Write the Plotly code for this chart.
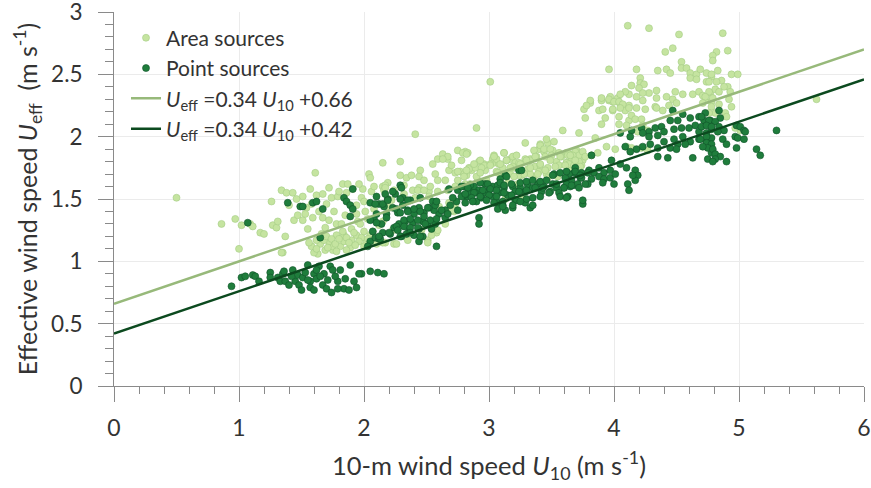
import plotly.graph_objects as go

# Area sources (U10, Ueff)
area_pts = [
(0.50,1.51),(0.86,1.30),(0.97,1.34),(1.02,1.29),(1.00,1.10),(1.09,1.30),(1.11,1.28),(1.17,1.23),(1.20,1.22),(1.26,1.48),(1.27,1.29),(1.30,1.27),(1.31,1.32),(1.34,1.57),(1.35,1.07),(1.37,1.20),(1.38,1.55),(1.43,1.55),(1.44,1.33),(1.47,1.37),(1.51,1.52),(1.51,1.33),(1.54,1.43),(1.55,1.26),(1.57,1.58),(1.59,1.35),(1.61,1.71),(1.62,1.53),(1.63,1.06),(1.67,1.54),(1.67,1.35),(1.69,1.27),(1.72,1.59),(1.74,1.51),(1.75,1.09),(1.79,1.52),(1.83,1.62),(1.85,1.37),(1.84,1.21),(1.87,1.62),(1.90,1.26),(1.91,1.58),(1.94,1.45),(1.95,1.32),(1.98,1.51),(1.99,1.58),(2.01,1.40),(2.04,1.70),(2.05,1.67),(2.15,1.60),(2.19,1.63),
(1.65,1.14),(1.69,1.09),(1.75,1.12),(1.60,1.07),(1.81,1.12),(1.84,1.16),(1.78,1.21),(1.72,1.16),(1.68,1.17),(1.90,1.17),(1.94,1.21),(1.98,1.19),(2.02,1.15),(2.05,1.21),(2.10,1.17),(1.89,1.11),(1.34,1.07),
(1.58,1.12),(1.62,1.17),(1.66,1.22),(1.70,1.20),(1.74,1.18),(1.77,1.14),(1.80,1.18),(1.83,1.24),(1.86,1.19),(1.88,1.15),(1.92,1.23),(1.96,1.16),(2.00,1.24),(2.03,1.18),(2.07,1.24),(1.71,1.11),(1.78,1.08),(1.86,1.09),(1.93,1.13),(2.00,1.12),(1.62,1.10),(1.56,1.15),
(1.40,1.45),(1.46,1.50),(1.53,1.38),(1.58,1.46),(1.64,1.40),(1.70,1.46),(1.76,1.40),(1.80,1.56),(1.86,1.55),(1.94,1.38),(2.00,1.48),(2.06,1.56),(2.08,1.42),(1.96,1.62),(1.78,1.30),(1.72,1.33),(1.82,1.30),(1.97,1.30),(2.03,1.34),
(2.15,1.79),(2.29,1.80),(2.41,2.02),(2.90,2.07),(3.29,1.95),(3.12,1.87),(2.75,1.89),(2.81,1.88),(2.63,1.86),(2.59,1.82),(2.67,1.82),(2.68,1.73),(2.55,1.78),(2.45,1.73),(2.29,1.69),(2.34,1.67),(2.38,1.69),(2.44,1.68),(2.48,1.65),(2.32,1.61),(2.17,1.61),(2.16,1.57),(2.24,1.57),(2.39,1.57),(2.44,1.59),(2.52,1.56),(2.57,1.70),(2.59,1.65),(2.65,1.65),(2.73,1.71),(2.77,1.72),(2.84,1.75),(2.92,1.80),(2.96,1.78),(3.03,1.82),(3.04,1.79),(3.08,1.78),(3.17,1.82),(3.19,1.84),(3.21,1.79),(3.20,1.75),(3.33,1.82),(3.40,1.90),(3.41,1.94),(3.47,1.95),(3.44,1.88),(3.52,1.96),(3.51,1.89),(3.56,1.87),(3.62,1.87),(3.70,1.89),(3.66,1.83),(3.62,1.79),(3.74,1.83),(3.31,1.74),(3.37,1.76),(3.40,1.72),(3.47,1.75),(3.36,1.68),(3.26,1.69),(3.06,1.72),(3.15,1.71),(2.97,1.73),(2.86,1.73),(2.82,1.69),(2.75,1.65),(2.85,1.62),(2.91,1.65),(3.15,1.63),(3.23,1.62),(3.26,1.52),(3.13,1.50),(2.22,1.49),(2.19,1.44),(2.60,1.44),(2.67,1.42),(2.15,1.32),(2.12,1.29),(2.23,1.25),(2.17,1.15),(2.24,1.14),(2.46,1.25),(2.51,1.17),(2.58,1.23),(2.72,1.40),(2.58,1.48),(2.52,1.52),(2.41,1.51),(2.32,1.54),
(3.01,2.44),(3.59,2.05),(3.76,2.22),(3.81,2.27),(3.90,2.29),(3.96,2.29),(3.46,1.98),(3.41,1.93),(3.44,1.90),(3.36,1.89),(3.49,1.90),(3.50,1.85),(3.45,1.84),(3.38,1.84),(3.33,1.81),(3.54,1.80),(3.58,1.84),(3.63,1.87),(3.67,1.86),(3.62,1.79),(3.70,1.80),(3.75,1.81),(3.56,1.77),(3.64,1.73),(3.70,1.77),(3.41,1.77),(3.29,1.82),(3.24,1.79),(3.19,1.76),(3.14,1.81),(3.06,1.82),(3.01,1.78),(2.96,1.77),(2.89,1.75),(2.84,1.74),(2.80,1.70),(2.75,1.72),(2.70,1.77),(2.67,1.84),(2.63,1.82),(2.79,1.87),(2.83,1.87),(3.04,1.85),(3.11,1.75),(3.17,1.70),(3.24,1.69),(3.33,1.70),(3.46,1.70),(3.74,1.77),(3.82,1.85),(3.87,1.87),(3.88,2.21),(3.99,2.28),(4.03,2.31),(4.05,2.26),(3.99,2.21),(4.09,2.21),(4.12,2.25),(4.12,2.13),
(4.11,2.89),(4.28,2.87),(4.52,2.82),(4.41,2.68),(4.47,2.71),(3.96,2.54),(4.18,2.54),(4.35,2.53),(4.42,2.54),(4.45,2.51),(4.54,2.60),(4.54,2.55),(4.58,2.55),(4.61,2.51),(4.61,2.47),(4.66,2.50),(4.66,2.46),(4.74,2.51),(4.74,2.44),(4.78,2.48),(4.21,2.47),(4.21,2.43),(4.24,2.42),(4.14,2.41),(4.20,2.39),(4.34,2.37),(4.28,2.35),(4.23,2.35),(4.12,2.34),(4.18,2.32),(4.09,2.36),(4.05,2.34),(3.97,2.32),(3.90,2.31),(3.81,2.29),(3.96,2.30),(4.00,2.28),(4.04,2.28),(4.07,2.26),(3.99,2.22),(4.05,2.23),(4.12,2.23),(3.78,2.25),(3.91,2.22),(4.14,2.17),(4.04,2.16),(3.93,2.15),(3.90,2.10),(3.77,2.15),(4.18,2.23),(4.23,2.29),(4.25,2.22),(4.33,2.24),(4.34,2.31),(4.42,2.32),(4.49,2.36),(4.47,2.30),(4.50,2.27),(4.55,2.34),(4.63,2.34),(4.68,2.36),(4.71,2.33),(4.77,2.35),(4.73,2.29),(4.78,2.28),(3.72,2.03),(3.85,1.99),(3.94,1.92),(4.01,1.90),(4.10,1.92),(4.14,1.91),(4.22,1.91),(4.27,1.89),(3.69,1.88),(3.72,1.85),(3.75,1.88),(3.67,1.85),(3.64,1.78),(3.68,1.77),(3.72,1.80),(3.63,1.85),(4.17,2.14),(4.22,2.14),(4.34,2.23),(4.39,2.21),(4.44,2.25),(4.10,2.09),(4.04,2.10),(4.23,2.09),(4.27,2.05),(4.19,2.04),
(4.87,2.83),(4.91,2.69),(4.82,2.68),(4.79,2.65),(4.79,2.61),(4.69,2.54),(4.83,2.53),(4.78,2.50),(4.86,2.45),(4.94,2.50),(4.99,2.50),(4.82,2.44),(4.76,2.44),(4.91,2.40),(4.88,2.40),(4.81,2.38),(4.84,2.36),(4.76,2.36),(4.93,2.36),(4.73,2.32),(4.79,2.31),(4.92,2.30),(4.71,2.27),(4.84,2.26),(4.94,2.24),(4.78,2.24),(4.81,2.19),(4.89,2.19),(4.90,2.16),(4.76,2.19),(5.62,2.30),(5.01,2.05),(4.97,2.07),
(2.17,1.59),(2.59,1.25),(2.54,1.21),(2.51,1.15),(2.26,1.14),(2.35,1.17),(2.10,1.14),(2.15,1.15),(2.65,1.30),(2.71,1.41),(2.73,1.46),(2.68,1.47),(2.08,1.60),(2.43,1.57),(2.48,1.57),(2.53,1.60),(2.59,1.56),(2.67,1.57),(2.73,1.60),(2.81,1.62),(2.85,1.59),
(2.78,1.81),(2.82,1.73),(2.88,1.78),(2.93,1.81),(2.94,1.75),(3.01,1.77),(3.04,1.84),(3.09,1.78),(3.14,1.81),(3.17,1.75),(3.22,1.85),(3.25,1.78),(3.30,1.81),(3.33,1.75),(3.37,1.84),(3.41,1.78),(3.45,1.73),(3.49,1.81),(3.53,1.76),(3.57,1.84),(3.61,1.77),(3.65,1.85),(3.69,1.81),(3.73,1.76),(3.77,1.84),(3.07,1.71),(3.12,1.70),(3.20,1.68),(3.28,1.70),(3.39,1.70),(3.47,1.67),(3.55,1.68),(2.90,1.68),(2.98,1.65),(2.80,1.68),(2.82,1.86),(3.12,1.87),(2.93,1.71),
]

# Point sources (U10, Ueff)
point_pts = [
(1.39,1.47),(1.49,1.44),(1.51,1.44),(1.59,1.47),(1.62,1.48),(1.67,1.42),(1.07,1.31),(1.84,1.51),(1.86,1.48),(1.89,1.45),(1.91,1.42),(1.89,1.36),(1.91,1.58),(2.05,1.47),(2.10,1.52),(2.12,1.46),(2.16,1.44),(2.08,1.34),(2.14,1.30),(2.05,1.16),(2.09,1.19),(2.12,1.18),(1.65,1.19),(2.03,1.12),(2.25,1.54),
(0.94,0.80),(1.02,0.87),(1.05,0.88),(1.11,0.89),(1.13,0.88),(1.16,0.84),(1.25,0.91),(1.25,0.87),(1.31,0.87),(1.35,0.90),(1.36,0.92),(1.33,0.84),(1.37,0.84),(1.40,0.81),(1.43,0.93),(1.45,0.84),(1.48,0.81),(1.47,0.89),(1.51,0.87),(1.53,0.91),(1.55,0.97),(1.57,0.84),(1.57,0.79),(1.60,0.90),(1.62,0.86),(1.64,0.96),(1.67,0.81),(1.68,0.90),(1.70,0.78),(1.73,0.96),(1.75,0.93),(1.79,0.84),(1.81,0.93),(1.84,0.78),(1.85,0.86),(1.89,0.97),(1.92,0.84),(1.88,0.77),(1.94,0.79),(1.98,0.90),(2.05,0.92),(2.11,0.91),(2.16,0.90),(1.96,0.90),(1.79,0.78),(1.74,0.75),(1.62,0.93),(1.42,0.88),(1.50,0.77),(1.55,0.85),(1.65,0.88),(1.71,0.85),(1.60,0.77),(1.77,0.88),
(3.24,1.73),(3.13,1.69),(3.09,1.66),(3.52,1.70),(3.68,1.71),(3.73,1.67),
(2.80,1.60),(2.84,1.57),(2.88,1.60),(2.92,1.57),(2.97,1.62),(3.00,1.57),(3.03,1.60),(3.07,1.61),(3.08,1.55),(3.12,1.59),(3.15,1.53),(3.19,1.60),(3.21,1.56),(3.25,1.59),(3.29,1.56),(3.31,1.61),(3.35,1.59),(3.39,1.62),(3.42,1.56),(3.44,1.60),(3.49,1.56),(3.51,1.62),(3.54,1.59),(3.56,1.55),(3.60,1.59),(3.65,1.60),(3.68,1.61),(3.63,1.52),(2.82,1.52),(2.89,1.55),(2.94,1.51),(2.97,1.55),(3.03,1.52),(3.07,1.47),(3.11,1.45),(3.13,1.41),(3.19,1.43),(3.21,1.49),(3.33,1.43),(3.29,1.47),(2.92,1.35),(2.90,1.48),(2.75,1.41),(2.74,1.48),(2.69,1.45),(2.65,1.41),(2.60,1.38),(2.56,1.41),(2.58,1.12),(2.75,1.57),(2.80,1.53),(2.85,1.61),(2.92,1.30),
(2.15,1.46),(2.19,1.50),(2.23,1.56),(2.29,1.61),(2.31,1.51),(2.18,1.38),(2.23,1.43),(2.27,1.39),(2.31,1.45),(2.35,1.41),(2.40,1.38),(2.44,1.43),(2.48,1.39),(2.52,1.43),(2.55,1.48),(2.45,1.51),(2.37,1.49),(2.33,1.32),(2.28,1.30),(2.24,1.27),(2.39,1.31),(2.47,1.32),(2.51,1.30),(2.44,1.26),(2.36,1.24),(2.21,1.22),(2.15,1.23),(2.13,1.18),(2.40,1.21),(2.47,1.20),(2.44,1.16),(2.54,1.26),(2.57,1.30),(2.65,1.35),(2.30,1.20),(2.34,1.22),
(4.47,2.21),(4.55,2.18),(4.61,2.15),(4.68,2.16),(4.65,2.09),(4.72,2.13),(4.77,2.13),(4.51,2.13),(4.45,2.13),(4.38,2.08),(4.33,2.07),(4.28,2.04),(4.22,2.07),(4.23,2.03),(4.14,2.05),(4.05,2.03),(4.13,2.00),(4.28,2.00),(4.35,2.01),(4.40,2.04),(4.48,2.06),(4.54,2.07),(4.60,2.07),(4.68,2.04),(4.74,2.03),(4.78,2.06),(4.55,2.00),(4.61,1.96),(4.68,1.98),(4.74,1.96),(4.78,1.99),(4.75,1.93),(4.48,1.98),(4.40,1.96),(4.29,1.94),(4.35,1.91),(4.45,1.91),(4.51,1.94),(4.57,1.94),(4.63,1.83),(4.50,1.90),(4.18,1.90),(4.23,1.92),(4.35,1.84),(4.43,1.83),(4.75,1.82),(4.78,1.87),(4.09,1.92),(4.13,1.88),
(3.82,1.85),(3.98,1.81),(4.05,1.78),(4.10,1.75),(4.17,1.73),(4.19,1.69),(4.11,1.62),(3.69,1.75),(3.74,1.71),(3.80,1.73),(3.84,1.71),(3.88,1.75),(3.92,1.71),(3.97,1.73),(3.64,1.70),(3.61,1.67),(3.66,1.65),(3.74,1.67),(3.82,1.66),(3.88,1.68),(3.92,1.66),(3.97,1.67),(4.01,1.70),(3.62,1.62),(3.71,1.62),(3.79,1.62),(3.91,1.63),(4.00,1.62),
(4.84,2.21),(4.73,2.19),(4.70,2.16),(4.85,2.15),(4.76,2.13),(4.81,2.12),(4.70,2.08),(4.74,2.09),(4.78,2.08),(4.84,2.08),(4.88,2.05),(4.83,2.04),(4.98,2.09),(5.01,2.08),(5.04,2.05),(5.05,2.04),(5.30,2.05),(4.74,2.00),(4.69,1.98),(4.97,2.00),(4.99,1.99),(5.04,1.98),(4.87,1.98),(4.90,1.94),(4.74,1.95),(4.78,1.94),(4.75,1.91),(4.71,1.92),(4.79,1.90),(4.98,1.91),(4.81,1.86),(4.85,1.84),(4.81,1.82),(4.79,1.80),(4.90,1.80),(5.14,1.90),(5.17,1.85),
(3.75,1.46),(4.12,1.57),(4.17,1.65),(4.15,1.69),
(2.30,1.59),(2.17,1.54),(2.09,1.46),(2.19,1.49),(2.29,1.50),(2.35,1.49),(2.10,1.38),(2.18,1.35),(2.26,1.42),(2.29,1.39),(2.35,1.40),(2.40,1.42),(2.45,1.40),(2.51,1.43),(2.57,1.45),(2.58,1.48),(2.62,1.41),(2.67,1.38),(2.71,1.51),(2.78,1.52),(2.84,1.54),(2.78,1.60),(2.68,1.58),(2.32,1.33),(2.37,1.34),(2.43,1.33),(2.48,1.36),(2.53,1.33),(2.58,1.34),(2.26,1.28),(2.32,1.28),(2.37,1.27),(2.43,1.27),(2.49,1.30),(2.07,1.24),(2.12,1.20),(2.20,1.23),(2.27,1.25),(2.29,1.20),(2.37,1.23),(2.45,1.20),(2.05,1.33),(2.10,1.31),
(3.26,1.73),(3.14,1.68),(3.09,1.63),(2.99,1.62),(2.93,1.63),(2.83,1.59),(2.81,1.54),(2.88,1.55),(2.95,1.57),(3.01,1.58),(3.06,1.57),(3.12,1.61),(3.18,1.62),(3.25,1.63),(3.30,1.64),(3.35,1.65),(3.41,1.64),(3.46,1.65),(3.51,1.69),(3.57,1.71),(3.62,1.72),(3.69,1.72),(3.73,1.69),(3.79,1.71),(3.54,1.62),(3.60,1.59),(3.66,1.61),(3.72,1.59),(3.77,1.62),(2.86,1.51),(2.93,1.52),(3.00,1.53),(3.06,1.52),(3.12,1.55),(3.18,1.53),(3.24,1.56),(3.30,1.57),(3.37,1.59),(3.43,1.59),(3.48,1.55),(3.57,1.52),(3.62,1.51),(3.75,1.49),(2.81,1.47),(2.87,1.48),(2.98,1.49),(3.04,1.47),(3.11,1.48),(3.22,1.49),(3.30,1.50),(3.35,1.51),(3.41,1.52),(3.07,1.42),(3.11,1.44),(3.19,1.45),(3.25,1.48),(3.35,1.45),
]

area_u10 = [p[0] for p in area_pts]
area_ueff = [p[1] for p in area_pts]
point_u10 = [p[0] for p in point_pts]
point_ueff = [p[1] for p in point_pts]

# Regression fits
fit_slopes = [0.34, 0.34]
fit_intercepts = [0.66, 0.42]
fit_u10 = [0, 6]

# Axis tick values / labels
x_ticks = [0, 1, 2, 3, 4, 5, 6]
y_ticks = [0, 0.5, 1, 1.5, 2, 2.5, 3]
y_labels = ["0", "0.5", "1", "1.5", "2", "2.5", "3"]

FONT = "Lato"
TXT = "#333333"

fig = go.Figure()
fig.add_trace(go.Scatter(
    x=area_u10, y=area_ueff, mode="markers", name="Area sources",
    marker=dict(size=7, color="#c5e4a0", line=dict(color="#a5cc85", width=0.6)),
))
fig.add_trace(go.Scatter(
    x=point_u10, y=point_ueff, mode="markers", name="Point sources",
    marker=dict(size=7, color="#1f7d3c", line=dict(color="#11542a", width=0.6)),
))
line_names = [
    "<i>U</i><sub>eff</sub> =0.34 <i>U</i><sub>10</sub> +0.66",
    "<i>U</i><sub>eff</sub> =0.34 <i>U</i><sub>10</sub> +0.42",
]
line_colors = ["#97b97a", "#0c4a1f"]
for s, b, nm, c in zip(fit_slopes, fit_intercepts, line_names, line_colors):
    fig.add_trace(go.Scatter(
        x=fit_u10, y=[s * u + b for u in fit_u10], mode="lines", name=nm,
        line=dict(color=c, width=2.5),
    ))

fig.update_layout(
    width=871, height=488,
    margin=dict(l=114, r=7, t=12, b=102),
    paper_bgcolor="white", plot_bgcolor="white",
    font=dict(family=FONT, size=20, color=TXT),
    showlegend=True,
    legend=dict(x=0.016, y=0.985, xanchor="left", yanchor="top",
                bgcolor="rgba(0,0,0,0)", font=dict(size=21, color=TXT),
                tracegroupgap=2),
)
fig.update_xaxes(
    range=[0, 6], tickmode="array", tickvals=x_ticks, automargin=False,
    ticklabeloverflow="allow",
    showgrid=True, gridcolor="#ebebeb", gridwidth=1, zeroline=False,
    showline=True, linecolor="#8a8a8a", linewidth=1,
    ticks="outside", ticklen=15, tickcolor="#8a8a8a", tickwidth=1,
    tickfont=dict(size=23, color=TXT), ticklabelstandoff=6,
    minor=dict(dtick=0.2, tick0=0, ticks="outside", ticklen=7, tickcolor="#8a8a8a", showgrid=False),
    title=dict(text="10-m wind speed <i>U</i><sub>10</sub> (m s<sup>-1</sup>)",
               font=dict(size=25.5, color=TXT), standoff=17),
)
fig.update_yaxes(
    range=[0, 3], tickmode="array", tickvals=y_ticks, ticktext=y_labels, automargin=False,
    ticklabeloverflow="allow",
    showgrid=True, gridcolor="#ebebeb", gridwidth=1, zeroline=False,
    showline=True, linecolor="#8a8a8a", linewidth=1,
    ticks="outside", ticklen=15, tickcolor="#8a8a8a", tickwidth=1,
    tickfont=dict(size=22.5, color=TXT), ticklabelstandoff=11,
    minor=dict(dtick=0.1, tick0=0, ticks="outside", ticklen=8, tickcolor="#8a8a8a", showgrid=False),
    title=dict(text="Effective wind speed <i>U</i><sub>eff</sub>  (m s<sup>-1</sup>)",
               font=dict(size=25, color=TXT), standoff=6),
)

fig.write_html("out.html")
